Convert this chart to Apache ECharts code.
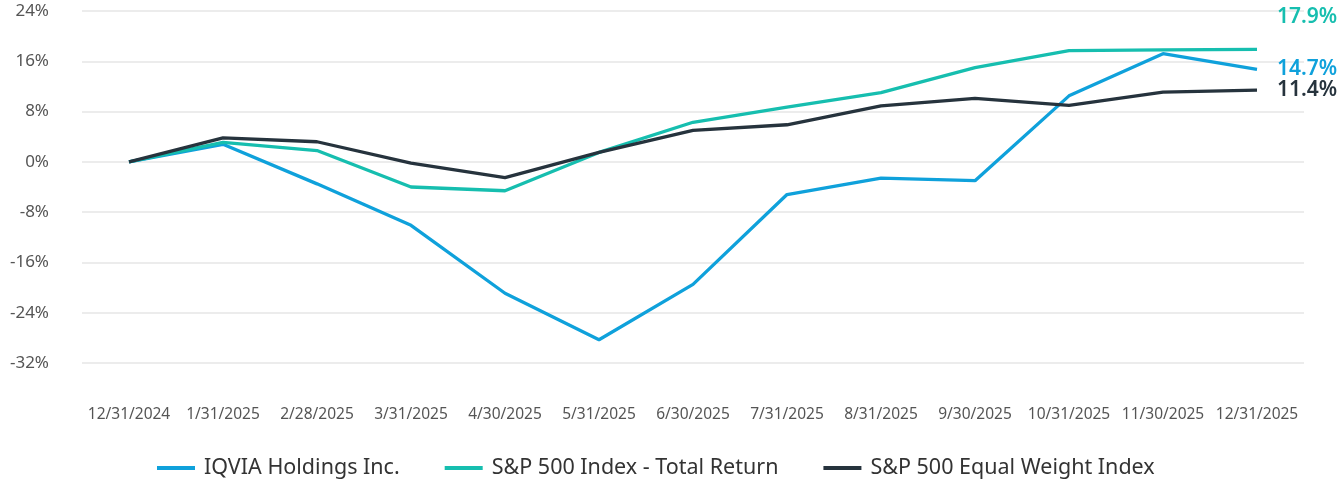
<!DOCTYPE html>
<html>
<head>
<meta charset="utf-8">
<script src="https://cdn.jsdelivr.net/npm/echarts@6/dist/echarts.min.js"></script>
<style>
html,body{margin:0;padding:0;background:#fff;}
#c{width:1344px;height:480px;}
</style>
</head>
<body>
<div id="c"></div>
<script>
const categories = ['12/31/2024','1/31/2025','2/28/2025','3/31/2025','4/30/2025','5/31/2025','6/30/2025','7/31/2025','8/31/2025','9/30/2025','10/31/2025','11/30/2025','12/31/2025'];
const iqvia = [0, 2.8, -3.5, -10.1, -20.9, -28.3, -19.5, -5.2, -2.6, -3.0, 10.5, 17.2, 14.7];
const spTotal = [0, 3.1, 1.8, -4.0, -4.6, 1.5, 6.3, 8.7, 11.0, 15.0, 17.7, 17.8, 17.9];
const spEqual = [0, 3.8, 3.2, -0.2, -2.5, 1.5, 5.0, 5.9, 8.9, 10.1, 9.0, 11.1, 11.4];
const seriesNames = ['IQVIA Holdings Inc.', 'S&P 500 Index - Total Return', 'S&P 500 Equal Weight Index'];
const colors = ['#0FA1DB', '#16BEAF', '#26333D'];
const yTicks = {min: -32, max: 24, interval: 8};

const chart = echarts.init(document.getElementById('c'), null, {renderer: 'canvas'});
const offsets = [[0, 0], [0, -32], [0, 0]];
const seriesData = [iqvia, spTotal, spEqual];
chart.setOption({
  animation: false,
  textStyle: {fontFamily: 'Noto Sans'},
  grid: {left: 82, right: 40, top: 11, bottom: 117},
  legend: {
    top: 452, left: 152,
    itemWidth: 38, itemHeight: 4, itemGap: 45,
    icon: 'rect',
    textStyle: {fontSize: 21.5, color: '#333', fontFamily: 'Noto Sans', padding: [0, 0, 0, 4]},
    data: seriesNames
  },
  xAxis: {
    type: 'category', data: categories, boundaryGap: true,
    axisLine: {show: false}, axisTick: {show: false},
    axisLabel: {color: '#555', fontSize: 15.5, margin: 44, interval: 0}
  },
  yAxis: {
    type: 'value', min: yTicks.min, max: yTicks.max, interval: yTicks.interval,
    axisLine: {show: false}, axisTick: {show: false},
    axisLabel: {color: '#555', fontSize: 17, margin: 33, formatter: '{value}%', padding: [3, 0, 0, 0]},
    splitLine: {lineStyle: {color: '#e6e6e6', width: 1.5}}
  },
  series: seriesNames.map((n, k) => ({
    name: n, type: 'line', data: seriesData[k],
    color: colors[k], showSymbol: false, symbol: 'none',
    lineStyle: {width: 3.3, color: colors[k]},
    endLabel: {
      show: true, distance: 20, offset: offsets[k],
      formatter: (p) => Number(p.value).toFixed(1) + '%',
      color: colors[k], fontSize: 21, fontWeight: 600, fontFamily: 'Noto Sans'
    },
    z: 2 + k
  }))
});
</script>
</body>
</html>
